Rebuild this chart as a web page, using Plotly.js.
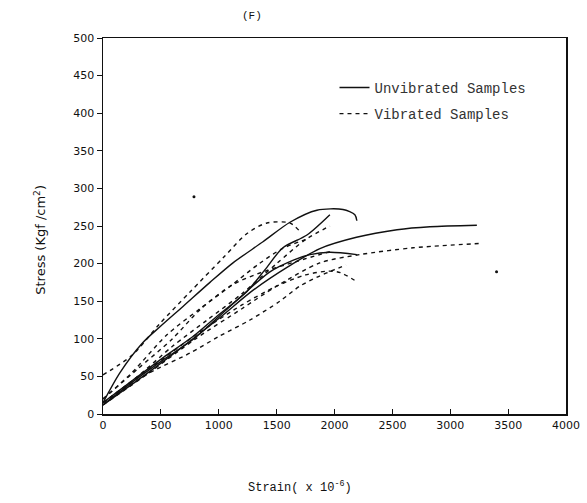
<!DOCTYPE html>
<html>
<head>
<meta charset="utf-8">
<script src="https://cdn.plot.ly/plotly-3.0.1.min.js"></script>
<style>html,body{margin:0;padding:0;background:#fff;}#chart{width:587px;height:503px;}</style>
</head>
<body>
<div id="chart"></div>
<script>
// ---- Data (strain x10^-6, stress kgf/cm^2) ----
// Unvibrated samples (solid)
const u1Strain = [0, 147, 345, 492, 691, 924, 1123, 1382, 1615, 1848, 2073, 2176, 2193];
const u1Stress = [15, 55, 95, 116, 143, 175, 201, 229, 255, 271, 272, 265, 257];
const u2Strain = [0, 259, 520, 777, 1000, 1244, 1400, 1554, 1762, 1960];
const u2Stress = [15, 45, 75, 103, 132, 163, 192, 221, 238, 265];
const u3Strain = [0, 259, 520, 777, 1097, 1442, 1650, 1788, 1960, 2193];
const u3Stress = [12, 43, 72, 99, 143, 189, 205, 212, 215, 212];
const u4Strain = [0, 300, 650, 1000, 1300, 1600, 1874, 2190, 2540, 2824, 3230];
const u4Stress = [12, 45, 85, 127, 165, 196, 220, 235, 245, 249, 251];

// Vibrated samples (dashed)
const v1Strain = [0, 250, 490, 750, 1040, 1244, 1416, 1615, 1700];
const v1Stress = [52, 78, 120, 162, 208, 240, 254, 254, 243];
const v2Strain = [0, 250, 550, 838, 1100, 1350, 1550, 1750];
const v2Stress = [20, 55, 105, 140, 170, 200, 220, 232];
const v3Strain = [0, 300, 600, 900, 1200, 1500, 1750, 1960];
const v3Stress = [15, 50, 90, 125, 160, 200, 232, 250];
const v4Strain = [0, 200, 405, 751, 1000, 1270, 1528, 1700, 1850, 2000, 2100];
const v4Stress = [15, 35, 55, 81, 103, 125, 150, 170, 182, 192, 198];
const v5Strain = [0, 400, 800, 1200, 1500, 1750, 1950, 2050, 2193];
const v5Stress = [15, 60, 105, 145, 170, 185, 190, 188, 176];
const v6Strain = [0, 400, 800, 1200, 1500, 1874, 2220, 2680, 3280];
const v6Stress = [12, 55, 100, 140, 170, 201, 212, 221, 227];
const v7Strain = [0, 300, 600, 840, 1120, 1382, 1675, 1960];
const v7Stress = [20, 60, 100, 139, 172, 189, 203, 216];

// stray specks visible on the scan
const speckStrain = [786, 3400];
const speckStress = [289, 189];

const xTicks = [0, 500, 1000, 1500, 2000, 2500, 3000, 3500, 4000];
const yTicks = [0, 50, 100, 150, 200, 250, 300, 350, 400, 450, 500];

const solidNames = ["Unvibrated Samples"];
const dashNames = ["Vibrated Samples"];

const solids = [[u1Strain,u1Stress],[u2Strain,u2Stress],[u3Strain,u3Stress],[u4Strain,u4Stress]];
const dashes = [[v1Strain,v1Stress],[v2Strain,v2Stress],[v3Strain,v3Stress],[v4Strain,v4Stress],[v5Strain,v5Stress],[v6Strain,v6Stress],[v7Strain,v7Stress]];

const traces = [];
solids.forEach((s, i) => traces.push({
  x: s[0], y: s[1], type: 'scatter', mode: 'lines',
  line: {color: '#111', width: 1.4, shape: 'spline', smoothing: 0.8},
  name: solidNames[0], legendgroup: 'u', showlegend: i === 0, hoverinfo: 'x+y'
}));
dashes.forEach((s, i) => traces.push({
  x: s[0], y: s[1], type: 'scatter', mode: 'lines',
  line: {color: '#111', width: 1.4, dash: '4px,4px', shape: 'spline', smoothing: 0.8},
  name: dashNames[0], legendgroup: 'v', showlegend: i === 0, hoverinfo: 'x+y'
}));
traces.push({x: speckStrain, y: speckStress, type: 'scatter', mode: 'markers',
  marker: {color: '#111', size: 3}, showlegend: false, hoverinfo: 'skip'});

const layout = {
  width: 587, height: 503,
  margin: {l: 103, r: 21, t: 38, b: 89},
  paper_bgcolor: '#fff', plot_bgcolor: '#fff',
  font: {family: 'DejaVu Sans', size: 11, color: '#111'},
  xaxis: {
    range: [0, 4000], tickvals: xTicks, ticktext: xTicks.map(String),
    showgrid: false, zeroline: false, showline: true, linecolor: '#111', linewidth: 1.5,
    mirror: true, ticks: 'inside', ticklen: 5, tickcolor: '#111',
    tickfont: {family: 'DejaVu Sans', size: 11, color: '#111'}
  },
  yaxis: {
    range: [0, 500], tickvals: yTicks, ticktext: yTicks.map(String),
    showgrid: false, zeroline: false, showline: true, linecolor: '#111', linewidth: 1.5,
    mirror: true, ticks: 'outside', ticklen: 5, tickcolor: '#111',
    tickfont: {family: 'DejaVu Sans', size: 11, color: '#111'}
  },
  legend: {
    x: 0.50, y: 0.91, xanchor: 'left', yanchor: 'top',
    bgcolor: 'rgba(0,0,0,0)', borderwidth: 0, tracegroupgap: 5,
    font: {family: 'Liberation Mono', size: 14, color: '#333'}
  },
  annotations: [
    {text: '(F)', xref: 'paper', yref: 'paper', x: 0.296, y: 1.08, showarrow: false,
     font: {family: 'Liberation Mono', size: 11, color: '#111'}},
    {text: 'Strain( x 10<sup>-6</sup>)', xref: 'paper', yref: 'paper', x: 0.425, y: -0.22,
     showarrow: false, font: {family: 'Liberation Mono', size: 12, color: '#111'}},
    {text: 'Stress (Kgf /cm<sup>2</sup>)', xref: 'paper', yref: 'paper', x: -0.158, y: 0.463,
     textangle: -90, showarrow: false, font: {family: 'DejaVu Sans', size: 13, color: '#111'}}
  ]
};

Plotly.newPlot('chart', traces, layout, {displayModeBar: false, staticPlot: true});
</script>
</body>
</html>
